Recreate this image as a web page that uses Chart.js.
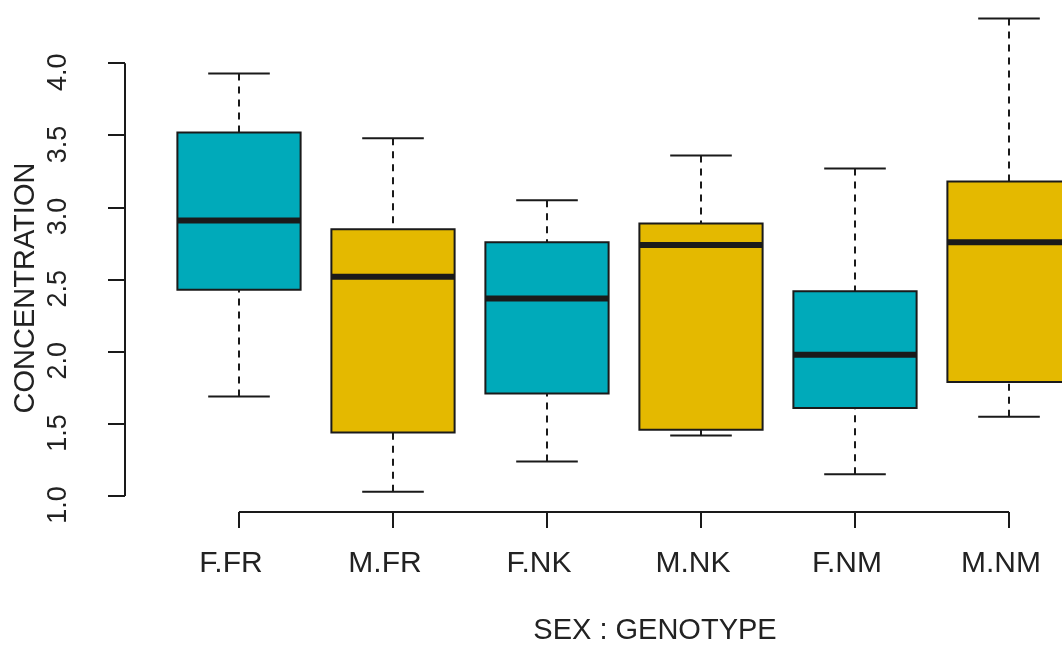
<!DOCTYPE html>
<html><head><meta charset="utf-8">
<script src="https://cdn.jsdelivr.net/npm/chart.js@4.4.1/dist/chart.umd.min.js"></script>
<style>html,body{margin:0;padding:0;background:#fff;overflow:hidden}</style>
</head><body>
<canvas id="c" width="1062" height="646"></canvas>
<script>
// ---- data ----
const categories  = ['F.FR','M.FR','F.NK','M.NK','F.NM','M.NM'];
const whiskerLow  = [1.69, 1.03, 1.24, 1.42, 1.15, 1.55];
const q1          = [2.43, 1.44, 1.71, 1.46, 1.61, 1.79];
const medians     = [2.91, 2.52, 2.37, 2.74, 1.98, 2.76];
const q3          = [3.52, 2.85, 2.76, 2.89, 2.42, 3.18];
const whiskerHigh = [3.93, 3.48, 3.05, 3.36, 3.27, 4.31];
const yTickValues = [1.0, 1.5, 2.0, 2.5, 3.0, 3.5, 4.0];
const xTitle = 'SEX : GENOTYPE';
const yTitle = 'CONCENTRATION';

// ---- styles ----
const boxColors = ['#00AABA', '#E4B900'];
const ink = '#1a1a1a';
const textColor = '#222';
const FONT = "'Liberation Sans', Arial, sans-serif";
Chart.defaults.font.family = FONT;

const boxPlugin = {
  id: 'boxes',
  afterDatasetsDraw(chart) {
    const ctx = chart.ctx, xs = chart.scales.x, ys = chart.scales.y;
    const halfBox = xs.getPixelForValue(0.4) - xs.getPixelForValue(0);
    const halfCap = xs.getPixelForValue(0.2) - xs.getPixelForValue(0);
    ctx.save();
    ctx.strokeStyle = ink;
    categories.forEach((c, i) => {
      const cx = Math.round(xs.getPixelForValue(i));
      const yLo = ys.getPixelForValue(whiskerLow[i]);
      const yQ1 = ys.getPixelForValue(q1[i]);
      const yMed = ys.getPixelForValue(medians[i]);
      const yQ3 = ys.getPixelForValue(q3[i]);
      const yHi = ys.getPixelForValue(whiskerHigh[i]);
      // whiskers
      ctx.lineWidth = 2;
      ctx.setLineDash([7, 6]);
      ctx.beginPath();
      ctx.moveTo(cx, yHi); ctx.lineTo(cx, yQ3);
      ctx.moveTo(cx, yLo); ctx.lineTo(cx, yQ1);
      ctx.stroke();
      ctx.setLineDash([]);
      // staples
      ctx.beginPath();
      ctx.moveTo(cx - halfCap, yHi); ctx.lineTo(cx + halfCap, yHi);
      ctx.moveTo(cx - halfCap, yLo); ctx.lineTo(cx + halfCap, yLo);
      ctx.stroke();
      // box
      ctx.fillStyle = boxColors[i % 2];
      ctx.beginPath();
      ctx.rect(cx - halfBox, yQ3, 2 * halfBox, yQ1 - yQ3);
      ctx.fill();
      ctx.lineWidth = 2;
      ctx.stroke();
      // median
      ctx.lineWidth = 6;
      ctx.beginPath();
      ctx.moveTo(cx - halfBox, yMed); ctx.lineTo(cx + halfBox, yMed);
      ctx.stroke();
    });
    ctx.restore();
  },
  afterDraw(chart) {
    const ctx = chart.ctx, xs = chart.scales.x, ys = chart.scales.y, a = chart.chartArea;
    ctx.save();
    ctx.strokeStyle = ink;
    ctx.lineWidth = 2;
    ctx.beginPath();
    // y axis line (first to last tick)
    ctx.moveTo(a.left, ys.getPixelForValue(yTickValues[0]));
    ctx.lineTo(a.left, ys.getPixelForValue(yTickValues[yTickValues.length - 1]));
    // x axis line (first to last category)
    ctx.moveTo(xs.getPixelForValue(0), a.bottom);
    ctx.lineTo(xs.getPixelForValue(categories.length - 1), a.bottom);
    ctx.stroke();
    // axis titles
    ctx.fillStyle = textColor;
    ctx.font = "29px " + FONT;
    ctx.textAlign = 'center';
    ctx.textBaseline = 'alphabetic';
    ctx.fillText(xTitle, 655, 639);
    ctx.translate(34, 288);
    ctx.rotate(-Math.PI / 2);
    ctx.fillText(yTitle, 0, 0);
    ctx.restore();
  }
};

new Chart(document.getElementById('c'), {
  type: 'scatter',
  data: {
    datasets: [{
      data: categories.map((c, i) => ({ x: i, y: medians[i] })),
      pointRadius: 0, showLine: false
    }]
  },
  options: {
    responsive: false,
    devicePixelRatio: 1,
    animation: false,
    layout: { padding: 0 },
    plugins: { legend: { display: false }, tooltip: { enabled: false } },
    scales: {
      x: {
        type: 'linear', min: -0.74, max: 5.344,
        afterBuildTicks: s => { s.ticks = categories.map((c, i) => ({ value: i })); },
        afterFit: s => { s.height = 134; s.paddingLeft = 0; s.paddingRight = 0; },
        grid: { display: true, drawOnChartArea: false, drawTicks: true, tickLength: 16, color: ink, lineWidth: 2 },
        border: { display: false },
        ticks: {
          autoSkip: false, maxRotation: 0, minRotation: 0,
          callback: v => categories[v],
          font: { size: 30 }, color: textColor, padding: 18, labelOffset: -8
        }
      },
      y: {
        type: 'linear', min: 0.889, max: 4.439,
        afterBuildTicks: s => { s.ticks = yTickValues.map(v => ({ value: v })); },
        afterFit: s => { s.width = 125; s.paddingTop = 0; s.paddingBottom = 0; },
        grid: { display: true, drawOnChartArea: false, drawTicks: true, tickLength: 17, color: ink, lineWidth: 2 },
        border: { display: false },
        ticks: {
          minRotation: 90, maxRotation: 90, crossAlign: 'center',
          callback: v => v.toFixed(1),
          font: { size: 27 }, color: textColor, padding: 31, labelOffset: 9
        }
      }
    }
  },
  plugins: [boxPlugin]
});
</script>
</body></html>
